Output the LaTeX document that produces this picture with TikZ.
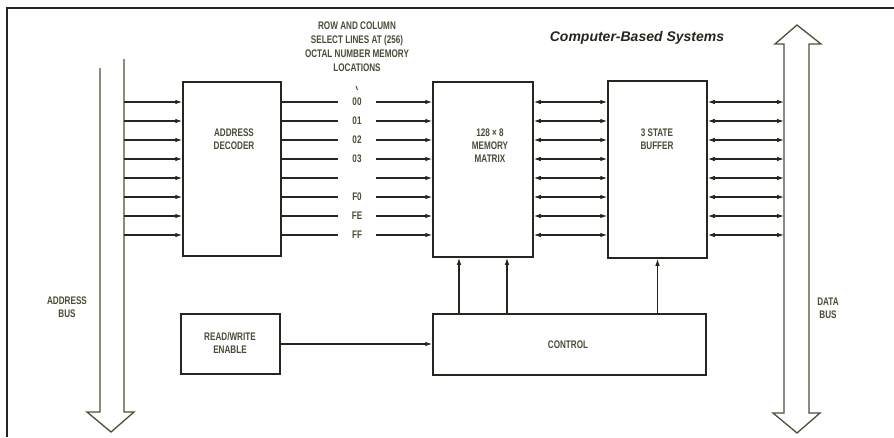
\documentclass[tikz,border=0pt]{standalone}
\usepackage{fontspec}
\usepackage{tikz}
\usetikzlibrary{arrows.meta,positioning,calc}
\newfontfamily\lblfont[FakeStretch=0.74]{Liberation Sans}
\newfontfamily\titlefont{Liberation Sans}
\definecolor{ink}{HTML}{26261E}
\definecolor{olive}{HTML}{4A4B36}
\definecolor{busline}{HTML}{4E4F38}

\begin{document}
\begin{tikzpicture}[x=1pt,y=-1pt,
  box/.style={draw=ink,line width=1.5pt,inner sep=0pt},
  lbl/.style={text=olive,align=center,font=\lblfont\bfseries\fontsize{11}{13}\selectfont},
  arr/.style={draw=ink,line width=1.1pt,-{Latex[length=7pt,width=4.5pt]}},
  darr/.style={draw=ink,line width=1.1pt,{Latex[length=7pt,width=4.5pt]}-{Latex[length=7pt,width=4.5pt]}}]
  \useasboundingbox (0,0) rectangle (894,437);
  % frame
  \draw[ink,line width=1.8pt] (7,437) -- (7,8) -- (894,8);
  \node[font=\titlefont\bfseries\itshape\fontsize{14}{16}\selectfont,text=ink] (title) at (637,38) {Computer-Based Systems};

  % blocks
  \node[box,minimum width=98,minimum height=174] (dec) at (232,169) {};
  \node[box,minimum width=100,minimum height=175] (mem) at (483,169.5) {};
  \node[box,minimum width=99,minimum height=177] (buf) at (657.5,169.5) {};
  \node[box,minimum width=273,minimum height=61] (ctrl) at (569.5,344.5) {};
  \node[box,minimum width=99,minimum height=60] (rw) at (230.5,344) {};
  \node[lbl] (dectxt) at (234,139.5) {ADDRESS\\DECODER};
  \node[lbl] (memtxt) at (490,146) {128 × 8\\MEMORY\\MATRIX};
  \node[lbl] (buftxt) at (657,139) {3 STATE\\BUFFER};
  \node[lbl] (ctrltxt) at (568,345) {CONTROL};
  \node[lbl] (rwtxt) at (230,343.5) {READ/WRITE\\ENABLE};

  % buses
  \draw[busline,line width=1.3pt] (100,68) -- (100,412) -- (87,412) -- (111,432) -- (134,412) -- (124,412) -- (124,59);
  \draw[busline,line width=1.3pt] (784,44) -- (775,44) -- (797,25) -- (821,44) -- (809,44) -- (809,413)
    -- (820,413) -- (797,433) -- (773,413) -- (784,413) -- cycle;
  \node[lbl] (abtxt) at (67,307) {ADDRESS\\BUS};
  \node[lbl] (dbtxt) at (828,308) {DATA\\BUS};

  % select lines
  \node[lbl,font=\lblfont\bfseries\fontsize{11}{14}\selectfont] (sel) at (357,46.5) {ROW AND COLUMN\\SELECT LINES AT (256)\\OCTAL NUMBER MEMORY\\LOCATIONS};
  \draw[olive,line width=1pt] (356,86) -- (357.5,90);
  \foreach \lab [count=\i from 0] in {00,01,02,03,{},F0,FE,FF} {
    \coordinate (ab\i) at (124,102+19*\i);
    \coordinate (db\i) at (784,102+19*\i);
    \draw[arr] (ab\i) -- (ab\i -| dec.west);
    \draw[arr] (ab\i -| dec.east) -- node[fill=white,lbl,minimum width=38,minimum height=8,inner sep=0pt] {\lab} (ab\i -| mem.west);
    \draw[darr] (ab\i -| mem.east) -- (ab\i -| buf.west);
    \draw[darr] (ab\i -| buf.east) -- (db\i);
  }

  % control lines
  \draw[arr] ([xshift=-24pt]mem.south |- ctrl.north) -- ([xshift=-24pt]mem.south);
  \draw[arr] ([xshift=24pt]mem.south |- ctrl.north) -- ([xshift=24pt]mem.south);
  \draw[arr] (buf.south |- ctrl.north) -- (buf.south);
  \draw[arr] (rw.east) -- (rw.east -| ctrl.west);
\end{tikzpicture}
\end{document}
